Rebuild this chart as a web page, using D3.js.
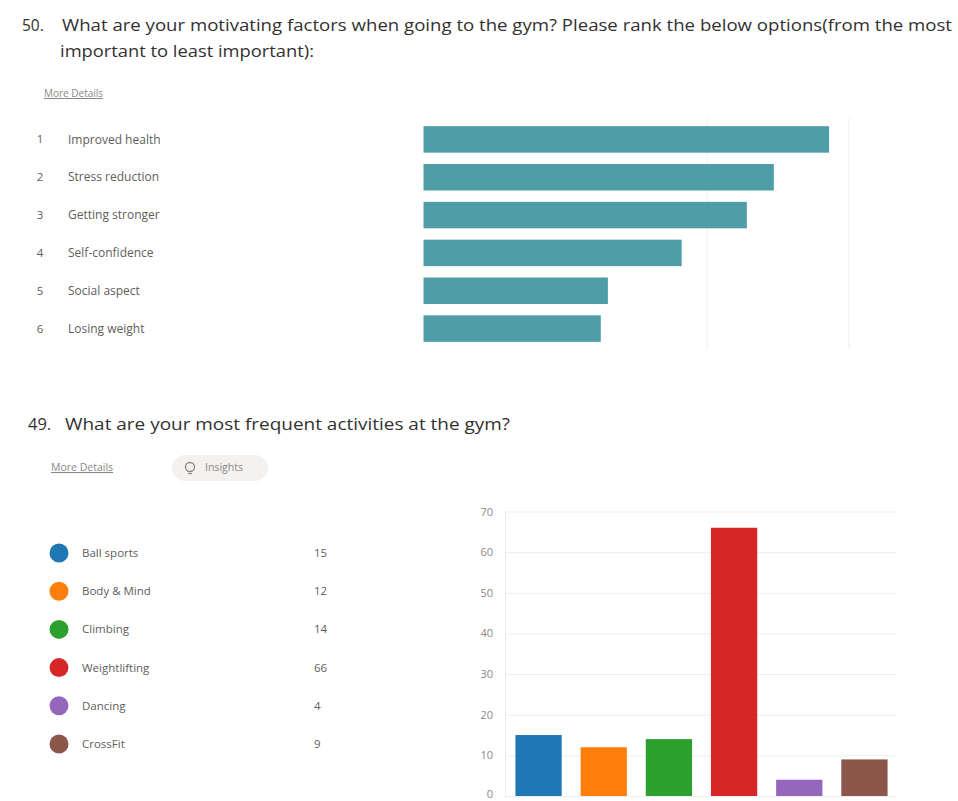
<!DOCTYPE html>
<html>
<head>
<meta charset="utf-8">
<script src="https://cdn.jsdelivr.net/npm/d3@7"></script>
<style>
  html, body { margin: 0; padding: 0; background: #ffffff; }
  svg { display: block; font-family: "Segoe UI", "Open Sans", "Noto Sans", sans-serif; }
</style>
</head>
<body>
<svg id="chart" width="958" height="801"></svg>
<script>
// ---------- Data ----------
const rankTitle1 = "What are your motivating factors when going to the gym? Please rank the below options(from the most";
const rankTitle2 = "important to least important):";
const rankCategories = ["Improved health", "Stress reduction", "Getting stronger", "Self-confidence", "Social aspect", "Losing weight"];
const rankScores = [2.86, 2.47, 2.28, 1.82, 1.30, 1.25];
const rankGrid = [2, 3];

const actTitle = "What are your most frequent activities at the gym?";
const actCategories = ["Ball sports", "Body & Mind", "Climbing", "Weightlifting", "Dancing", "CrossFit"];
const actValues = [15, 12, 14, 66, 4, 9];
const actColors = ["#1f77b4", "#ff7f0e", "#2ca02c", "#d62728", "#9467bd", "#8c564b"];
const actTicks = [0, 10, 20, 30, 40, 50, 60, 70];

// ---------- Drawing ----------
const svg = d3.select("#chart");
const textCol = "#323130";
const mutedCol = "#605e5c";

function fitText(sel, width) {
  sel.attr("textLength", width).attr("lengthAdjust", "spacingAndGlyphs");
}

// ===== Question 50 =====
svg.append("text").attr("x", 22).attr("y", 31).attr("font-size", 15.5).attr("fill", textCol).text("50.");
svg.append("text").attr("x", 62).attr("y", 31).attr("font-size", 15.5).attr("fill", textCol)
  .text(rankTitle1).call(fitText, 890);
svg.append("text").attr("x", 60).attr("y", 57).attr("font-size", 15.5).attr("fill", textCol)
  .text(rankTitle2).call(fitText, 254);

svg.append("text").attr("x", 44).attr("y", 97).attr("font-size", 10).attr("fill", "#8a8886")
  .attr("text-decoration", "underline").text("More Details");

const xR = d3.scaleLinear().domain([0, 3]).range([423.5, 849]);
const yR = d3.scaleBand().domain(rankCategories).range([120.5, 347.5]).paddingInner(0.3).paddingOuter(0.15);

const gR = svg.append("g");
gR.selectAll("line.grid").data(rankGrid).enter().append("line")
  .attr("x1", d => xR(d)).attr("x2", d => xR(d))
  .attr("y1", 118).attr("y2", 349)
  .attr("stroke", "#eeeeee").attr("stroke-width", 1);

gR.selectAll("rect").data(rankCategories).enter().append("rect")
  .attr("x", xR(0))
  .attr("y", d => yR(d))
  .attr("width", (d, i) => xR(rankScores[i]) - xR(0))
  .attr("height", yR.bandwidth())
  .attr("fill", "#4f9ea7");

gR.selectAll("text.num").data(rankCategories).enter().append("text")
  .attr("x", 40).attr("y", d => yR(d) + yR.bandwidth() / 2)
  .attr("dy", "0.35em").attr("text-anchor", "middle")
  .attr("font-size", 11.5).attr("fill", mutedCol)
  .text((d, i) => i + 1);

gR.selectAll("text.lab").data(rankCategories).enter().append("text")
  .attr("x", 68).attr("y", d => yR(d) + yR.bandwidth() / 2)
  .attr("dy", "0.35em")
  .attr("font-size", 12).attr("fill", mutedCol)
  .text(d => d);

// ===== Question 49 =====
svg.append("text").attr("x", 28).attr("y", 430).attr("font-size", 16.5).attr("fill", textCol).text("49.");
svg.append("text").attr("x", 65).attr("y", 430).attr("font-size", 16.5).attr("fill", textCol)
  .text(actTitle).call(fitText, 445);

svg.append("text").attr("x", 51).attr("y", 471).attr("font-size", 10.5).attr("fill", "#8a8886")
  .attr("text-decoration", "underline").text("More Details");

// Insights pill
svg.append("rect").attr("x", 172).attr("y", 455).attr("width", 96).attr("height", 26)
  .attr("rx", 13).attr("fill", "#f3f2f1");
svg.append("circle").attr("cx", 190).attr("cy", 467).attr("r", 4.5)
  .attr("fill", "none").attr("stroke", "#8a8886").attr("stroke-width", 1.3);
svg.append("line").attr("x1", 188).attr("x2", 192).attr("y1", 473.5).attr("y2", 473.5)
  .attr("stroke", "#8a8886").attr("stroke-width", 1.2);
svg.append("text").attr("x", 205).attr("y", 471).attr("font-size", 10.5).attr("fill", "#8a8886").text("Insights");

// Legend
const yL = d3.scalePoint().domain(actCategories).range([553, 744]);
const gL = svg.append("g");
gL.selectAll("circle").data(actCategories).enter().append("circle")
  .attr("cx", 59).attr("cy", d => yL(d)).attr("r", 9.5)
  .attr("fill", (d, i) => actColors[i]);
gL.selectAll("text.lab").data(actCategories).enter().append("text")
  .attr("x", 82).attr("y", d => yL(d)).attr("dy", "0.35em")
  .attr("font-size", 11.5).attr("fill", mutedCol).text(d => d);
gL.selectAll("text.val").data(actCategories).enter().append("text")
  .attr("x", 314).attr("y", d => yL(d)).attr("dy", "0.35em")
  .attr("font-size", 11.5).attr("fill", mutedCol).text((d, i) => actValues[i]);

// Column chart
const xC = d3.scaleBand().domain(actCategories).range([505, 898]).paddingInner(0.29).paddingOuter(0.16);
const yC = d3.scaleLinear().domain([0, 70]).range([796, 511.5]);

const gC = svg.append("g");
gC.selectAll("line.grid").data(actTicks).enter().append("line")
  .attr("x1", 505).attr("x2", 897)
  .attr("y1", d => yC(d) + 0.5).attr("y2", d => yC(d) + 0.5)
  .attr("stroke", "#ededed").attr("stroke-width", 1);
gC.append("line").attr("x1", 505.5).attr("x2", 505.5).attr("y1", yC(70)).attr("y2", yC(0))
  .attr("stroke", "#ededed");

const yAxis = d3.axisLeft(yC).tickValues(actTicks).tickSize(0).tickPadding(0);
const ax = gC.append("g").attr("transform", "translate(493,0)").call(yAxis);
ax.select(".domain").remove();
ax.selectAll("text").attr("font-size", 11).attr("fill", "#8a8886")
  .attr("font-family", "\"Segoe UI\", \"Open Sans\", sans-serif")
  .attr("dy", d => d === 0 ? "0.1em" : "0.32em");

gC.selectAll("rect").data(actCategories).enter().append("rect")
  .attr("x", d => xC(d))
  .attr("y", (d, i) => yC(actValues[i]))
  .attr("width", xC.bandwidth())
  .attr("height", (d, i) => yC(0) - yC(actValues[i]))
  .attr("fill", (d, i) => actColors[i]);
</script>
</body>
</html>
